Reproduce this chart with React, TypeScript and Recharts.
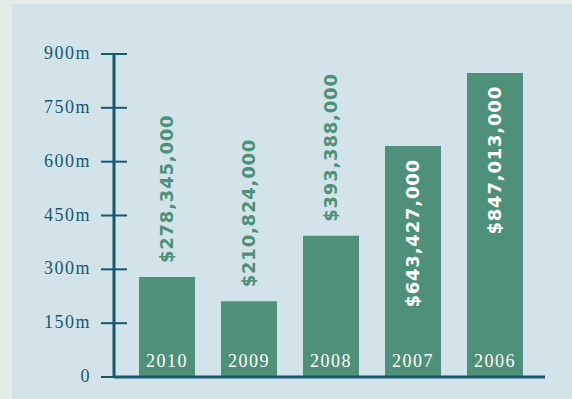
import { Bar, BarChart, LabelList, XAxis, YAxis } from "recharts";

const PAGE_BG = "#e3eee9";
const PANEL_BG = "#d3e3ea";
const BAR_GREEN = "#4e9079";
const AXIS_BLUE = "#15596f";
const SERIF = "Liberation Serif, Times New Roman, serif";

// reporting years, newest first, and the amount raised in each
const years = ["2010", "2009", "2008", "2007", "2006"];
const amounts = [278345000, 210824000, 393388000, 643427000, 847013000];
// y axis ticks, in millions
const yTicks = [0, 150, 300, 450, 600, 750, 900];

const data = years.map((year, i) => ({
  year,
  amount: amounts[i],
  millions: amounts[i] / 1_000_000,
}));

const formatAmount = (amount: number) => `$${amount.toLocaleString("en-US")}`;

function AxisTick(props: any) {
  const { x, y, payload } = props;
  const v = payload.value as number;
  return (
    <g>
      <line x1={x - 13} x2={x + 13} y1={y} y2={y} stroke={AXIS_BLUE} strokeWidth={2} />
      <text
        x={x - 23}
        y={y}
        dy={5}
        textAnchor="end"
        fill={AXIS_BLUE}
        style={{ fontFamily: SERIF, fontSize: 18, letterSpacing: 1.5 }}
      >
        {v === 0 ? "0" : `${v}m`}
      </text>
    </g>
  );
}

function AmountLabel(props: any) {
  const { x, y, width, height, index } = props;
  const cx = x + width / 2;
  // long labels only fit inside the tallest bars
  const inside = height >= 185;
  const ay = inside ? y + 13 : y - 14;
  return (
    <text
      x={cx}
      y={ay}
      transform={`rotate(-90 ${cx} ${ay})`}
      textAnchor={inside ? "end" : "start"}
      dominantBaseline="central"
      fill={inside ? "#ffffff" : BAR_GREEN}
      style={{
        fontFamily: "DejaVu Sans, sans-serif",
        fontWeight: 700,
        fontSize: 18,
        letterSpacing: 0.8,
      }}
    >
      {formatAmount(data[index].amount)}
    </text>
  );
}

function YearLabel(props: any) {
  const { x, y, width, height, index } = props;
  return (
    <text
      x={x + width / 2}
      y={y + height - 10}
      textAnchor="middle"
      fill="#ffffff"
      style={{ fontFamily: SERIF, fontSize: 18, letterSpacing: 1.5 }}
    >
      {data[index].year}
    </text>
  );
}

export default function App() {
  return (
    <div
      style={{
        position: "fixed",
        left: 0,
        top: 0,
        width: 572,
        height: 399,
        background: PAGE_BG,
        overflow: "hidden",
      }}
    >
      <div
        style={{
          position: "absolute",
          left: 12,
          top: 4,
          width: 560,
          height: 395,
          background: PANEL_BG,
        }}
      />
      <div style={{ position: "absolute", left: 0, top: 0 }}>
        <BarChart
          width={572}
          height={399}
          data={data}
          margin={{ top: 54, right: 27, bottom: 21, left: 0 }}
        >
          <XAxis
            dataKey="year"
            tick={false}
            tickLine={false}
            height={1}
            axisLine={{ stroke: AXIS_BLUE, strokeWidth: 3 }}
            padding={{ left: 12, right: 9 }}
          />
          <YAxis
            domain={[0, 900]}
            ticks={yTicks}
            width={114}
            tickSize={0}
            tickMargin={0}
            tickLine={false}
            axisLine={{ stroke: AXIS_BLUE, strokeWidth: 3 }}
            tick={<AxisTick />}
            interval={0}
          />
          <Bar dataKey="millions" fill={BAR_GREEN} barSize={56} isAnimationActive={false}>
            <LabelList dataKey="amount" content={<AmountLabel />} />
            <LabelList dataKey="year" content={<YearLabel />} />
          </Bar>
        </BarChart>
      </div>
    </div>
  );
}
